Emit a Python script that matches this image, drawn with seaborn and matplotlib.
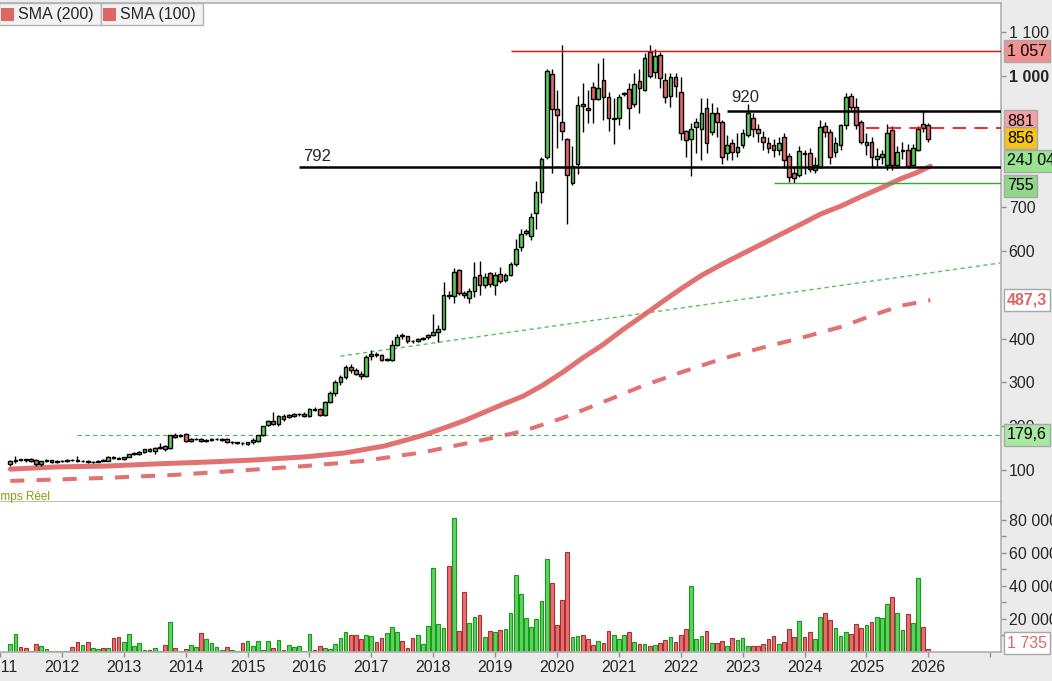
import numpy as np
import pandas as pd
import seaborn as sns
import matplotlib.pyplot as plt
from matplotlib.patches import Rectangle
from matplotlib.ticker import FixedLocator

sns.set_style("white")
plt.rcParams['font.family'] = ['Liberation Sans', 'DejaVu Sans']

# monthly candles, Mar 2011 .. Jan 2026
opens = [114, 121, 124, 124, 120, 122, 113, 121, 122, 118, 120, 121, 123, 122, 120, 121, 118, 119, 122, 121,
         129, 128, 125, 130, 136, 137, 141, 147, 144, 150, 154, 150, 180, 177, 182, 166, 170, 171, 167, 169,
         170, 169, 171, 164, 163, 162, 160, 163, 166, 179, 203, 211, 204, 224, 222, 223, 227, 229, 223, 240,
         239, 225, 256, 275, 300, 312, 335, 328, 320, 315, 360, 366, 362, 351, 351, 386, 409, 405, 395, 394,
         400, 403, 408, 415, 423, 500, 497, 556, 504, 494, 510, 545, 522, 549, 522, 547, 535, 546, 570, 610,
         641, 635, 686, 734, 814, 1004, 924, 894, 855, 755, 798, 937, 928, 974, 947, 990, 951, 901, 905, 958,
         970, 935, 988, 967, 1054, 1008, 1049, 990, 955, 997, 963, 874, 857, 883, 880, 926, 871, 915, 896, 825,
         846, 827, 842, 865, 905, 880, 861, 846, 842, 831, 860, 817, 778, 774, 825, 823, 785, 793, 886, 873,
         827, 842, 889, 954, 930, 896, 843, 850, 810, 815, 797, 877, 797, 828, 831, 797, 832, 890, 888]
highs = [123, 132, 126, 126, 127, 124, 121, 124, 123, 122, 123, 124, 125, 132, 123, 123, 121, 123, 124, 131,
         132, 130, 130, 137, 140, 143, 148, 150, 152, 162, 157, 181, 184, 182, 184, 172, 173, 173, 171, 172,
         172, 172, 173, 167, 165, 164, 165, 172, 181, 201, 215, 232, 226, 228, 229, 230, 231, 232, 241, 245,
         242, 258, 280, 305, 318, 340, 342, 334, 326, 362, 374, 370, 364, 356, 398, 411, 414, 407, 398, 402,
         404, 410, 456, 431, 530, 510, 561, 560, 508, 515, 574, 578, 550, 553, 553, 563, 550, 575, 628, 650,
         650, 686, 761, 816, 1017, 1017, 968, 1071, 858, 840, 954, 985, 968, 987, 1030, 1040, 964, 949, 958, 963,
         983, 1006, 1015, 1052, 1071, 1061, 1054, 1006, 1006, 1006, 998, 876, 892, 905, 949, 949, 938, 930, 900, 865,
         857, 870, 880, 937, 915, 890, 875, 860, 855, 860, 870, 825, 795, 840, 830, 835, 815, 900, 895, 880,
         860, 890, 960, 960, 950, 900, 870, 860, 835, 830, 890, 885, 840, 850, 845, 845, 885, 922, 892]
lows = [110, 117, 120, 118, 118, 110, 108, 119, 116, 116, 118, 119, 120, 119, 118, 117, 116, 118, 120, 120,
        125, 125, 123, 129, 135, 135, 139, 141, 136, 148, 144, 148, 172, 175, 164, 164, 168, 164, 165, 167,
        168, 167, 162, 160, 159, 158, 157, 160, 165, 178, 200, 203, 200, 213, 218, 221, 224, 221, 220, 235,
        224, 223, 252, 270, 295, 308, 322, 316, 308, 312, 351, 358, 348, 348, 349, 384, 400, 391, 390, 392,
        398, 400, 405, 392, 420, 490, 481, 500, 494, 481, 496, 499, 515, 518, 500, 528, 530, 542, 565, 600,
        636, 625, 651, 709, 810, 778, 835, 854, 661, 752, 775, 871, 892, 892, 945, 900, 875, 844, 888, 955,
        880, 930, 916, 965, 995, 995, 972, 939, 930, 953, 854, 816, 772, 823, 808, 823, 865, 861, 800, 808,
        808, 815, 835, 860, 860, 850, 830, 825, 815, 820, 790, 757, 755, 770, 775, 780, 778, 790, 860, 800,
        815, 830, 880, 920, 878, 845, 820, 790, 795, 800, 785, 785, 790, 810, 790, 792, 828, 872, 850]
closes = [120, 123, 123, 122, 125, 113, 120, 122, 118, 120, 121, 122, 122, 121, 121, 119, 119, 121, 121, 129,
          127, 126, 129, 136, 138, 141, 147, 143, 150, 152, 147, 179, 176, 179, 166, 170, 171, 166, 169, 170,
          170, 170, 164, 164, 162, 161, 164, 168, 179, 200, 211, 205, 224, 217, 226, 228, 229, 224, 239, 238,
          226, 256, 275, 300, 312, 335, 328, 320, 315, 358, 366, 362, 351, 353, 385, 403, 405, 394, 394, 400,
          402, 408, 415, 423, 499, 497, 552, 504, 499, 510, 540, 523, 540, 525, 545, 531, 545, 570, 604, 638,
          646, 679, 734, 810, 1011, 924, 912, 874, 774, 795, 933, 931, 922, 947, 972, 951, 903, 905, 953, 961,
          926, 981, 973, 1040, 1001, 1045, 995, 951, 997, 976, 869, 853, 880, 894, 915, 846, 915, 896, 815, 843,
          827, 838, 869, 915, 878, 869, 850, 835, 831, 846, 808, 770, 766, 829, 822, 787, 797, 884, 873, 816,
          846, 888, 953, 930, 888, 850, 850, 816, 818, 822, 869, 797, 827, 832, 794, 835, 880, 881, 857]
volumes = [5.0, 11.0, 3.2, 2.4, 0.8, 5.0, 3.8, 2.0, 0.4, 0.8,
           0.4, 0.8, 3.2, 6.3, 4.4, 6.3, 2.6, 2.0, 2.6, 2.6,
           8.7, 9.3, 6.3, 11.0, 3.8, 5.7, 1.4, 1.4, 2.6, 0.8,
           4.4, 18.4, 2.6, 0.8, 2.0, 4.4, 3.2, 11.7, 8.0, 5.7,
           3.2, 1.4, 3.2, 1.4, 0.8, 5.7, 6.9, 3.8, 6.9, 1.4,
           6.9, 2.6, 7.5, 1.4, 4.4, 3.2, 3.8, 0.8, 11.0, 1.4,
           3.8, 2.6, 2.0, 5.0, 8.7, 12.3, 10.5, 10.5, 8.0, 10.5,
           9.9, 6.3, 8.7, 11.7, 15.4, 12.3, 6.9, 2.6, 8.7, 10.5,
           5.0, 16.0, 51.0, 17.2, 14.7, 52.3, 81.4, 12.9, 36.6, 17.8,
           21.4, 22.6, 9.3, 12.9, 12.3, 13.5,
           14.1, 23.8, 46.9, 35.4, 20.8, 15.4, 20.2, 31.1, 56.6, 42.0,
           16.6, 31.7, 60.8, 9.3, 9.9, 10.5, 8.0, 4.4, 6.9, 5.7,
           12.9, 10.5, 8.0, 10.5, 12.3, 6.3, 5.0, 5.0, 3.8, 4.4,
           5.7, 7.5, 9.3, 6.3, 10.5, 14.1, 40.2, 8.0, 9.9, 12.9,
           5.7, 5.7, 6.9, 3.8, 8.7, 7.5, 8.7, 3.8, 3.8, 3.8,
           5.0, 8.0, 9.9, 5.0, 6.3, 14.1, 9.3, 19.0, 9.3, 12.3,
           8.0, 21.4, 23.8, 19.6, 14.7, 9.9, 12.3, 11.1, 17.2, 14.7,
           16.6, 18.4, 21.4, 20.8, 29.3, 33.5, 23.8, 13.5, 23.2, 17.8,
           45.0, 15.4, 1.735]  # thousands

years = list(range(2011, 2028))
year_labels = [str(y) for y in years[:-1]] + ['']

# moving averages (month index, price)
sma100_idx = [0, 9, 18.7, 28.3, 37.9, 47.5, 57.2, 64.9, 72.6, 80.3, 87.9, 95.7, 99.5, 103.3, 107.2, 111,
              114.9, 118.7, 122.6, 126.4, 130.3, 134.1, 138, 141.8, 145.7, 149.5, 153.4, 157.2, 161.1,
              164.9, 168.8, 172.6, 175.5, 178.4]
sma100 = [102, 107, 109, 114, 118, 123, 130, 139, 155, 180, 212, 251, 269, 294, 324, 356,
          386, 420, 452, 484, 516, 545, 570, 593, 616, 639, 662, 685, 703,
          724, 744, 765, 778, 794]
sma200_idx = [0, 18.7, 32.1, 43.7, 57.2, 68.7, 80.3, 91.8, 99.5, 107.2, 114.9, 122.6, 130.3, 138,
              145.7, 153.4, 161.1, 166.9, 172.6, 178.4]
sma200 = [75, 82, 89, 98, 109, 121, 141, 169, 189, 219, 255, 292, 324, 354,
          379, 402, 427, 452, 475, 488]

trend_idx = [64, 192]
trend_val = [360, 573]

price_ticks = [100, 200, 300, 400, 600, 700, 1000, 1100]
vol_ticks = [20, 40, 60, 80]

GREEN, RED = '#55cf55', '#e46a6a'
SMA_RED = '#e06666'

W, H = 1052, 681
fig = plt.figure(figsize=(W / 100, H / 100), dpi=100, facecolor='#ebebeb')


def fx(px):
    return px / W


def fy(py):
    return 1 - py / H


ax = fig.add_axes([0, fy(502), fx(1001), fy(3) - fy(502)])
axv = fig.add_axes([0, fy(652), fx(1001), fy(502) - fy(652)], sharex=ax)

n = len(opens)
idx = np.arange(n)
o, h, l, c = (np.array(a, dtype=float) for a in (opens, highs, lows, closes))
up = c >= o
XMAX = 192.1

# moving averages
sns.lineplot(x=sma100_idx, y=sma100, ax=ax, color=SMA_RED, linewidth=3.6, alpha=0.92, zorder=2)
sns.lineplot(x=sma200_idx, y=sma200, ax=ax, color=SMA_RED, linewidth=2.9, alpha=0.92, zorder=2)
ax.lines[-1].set_dashes([3.5, 3.0])

# candles
ax.vlines(idx, l, h, color='black', lw=1, zorder=3)
ax.bar(idx, np.maximum(np.abs(c - o), 0.8), bottom=np.minimum(o, c), width=0.72,
       color=np.where(up, GREEN, RED), edgecolor='black', linewidth=1, zorder=4)

# levels
ax.hlines(1057, 97, XMAX, color='red', lw=1, zorder=5)
ax.hlines(920, 139, XMAX, color='black', lw=1.8, zorder=5)
ax.hlines(792, 56, XMAX, color='black', lw=1.8, zorder=5)
ax.hlines(755, 148, XMAX, color='#3aa83a', lw=1, zorder=5)
ax.hlines(881, 166, XMAX, color='red', lw=1.2, linestyles=(0, (8, 5)), zorder=5)
ax.hlines(179.6, 13, XMAX, color='#4caf50', lw=0.8, linestyles=(0, (4, 3)), zorder=1)
ax.plot(trend_idx, trend_val, color='#5cc05c', lw=1, ls=(0, (3, 2.5)), zorder=1)
ax.text(139.8, 950, '920', fontsize=12, ha='left', va='center')
ax.text(56.7, 817, '792', fontsize=12, ha='left', va='center')

ax.set_xlim(-0.58, XMAX)
ax.set_ylim(26.9, 1166.7)
ax.yaxis.tick_right()
ax.yaxis.set_major_locator(FixedLocator(price_ticks))
ax.set_yticklabels([f'{t:,}'.replace(',', ' ') for t in price_ticks])
for lab in ax.get_yticklabels():
    if lab.get_text() == '1 000':
        lab.set_fontweight('bold')
ax.tick_params(axis='y', which='both', right=True, length=3.5, width=1, color='#909090',
               labelsize=11.5, pad=2)
ax.tick_params(axis='x', bottom=False, labelbottom=False)
ax.spines['left'].set_visible(False)
for s in ['right', 'top', 'bottom']:
    ax.spines[s].set_color('#b0b0b0')
    ax.spines[s].set_linewidth(1.2)

# volume
axv.bar(idx, volumes, width=0.72, color=np.where(up, '#5fd35f', '#e87070'),
        edgecolor=np.where(up, '#1a9a1a', '#a83232'), linewidth=0.8)
axv.set_ylim(0, 90.9)
axv.yaxis.tick_right()
axv.yaxis.set_major_locator(FixedLocator(vol_ticks))
axv.yaxis.set_minor_locator(FixedLocator([10, 30, 50, 70]))
axv.set_yticklabels([f'{t} 000' for t in vol_ticks])
axv.tick_params(axis='y', which='both', right=True, length=3.5, width=1, color='#909090',
                labelsize=11.5, pad=2)
axv.set_xticks([12 * (y - 2011) - 2 for y in years])
axv.set_xticklabels(year_labels)
axv.tick_params(axis='x', bottom=True, length=3.5, width=1, color='#909090', labelsize=11.5, pad=2)
axv.spines['left'].set_visible(False)
axv.spines['top'].set_visible(False)
for s in ['right', 'bottom']:
    axv.spines[s].set_color('#b0b0b0')
    axv.spines[s].set_linewidth(1.2)


def tag(axis, y, text, face, color='black', weight='normal'):
    axis.text(1.006, y, text, transform=axis.get_yaxis_transform(), ha='left', va='center',
              fontsize=11.5, color=color, fontweight=weight, clip_on=False, zorder=10,
              bbox=dict(boxstyle='square,pad=0.2', fc=face, ec='#a8a8a8', lw=1))


tag(ax, 1057, '1 057', '#f29090')
tag(ax, 897, '881', '#f4a0a0')
tag(ax, 858, '856', '#f6c21c')
tag(ax, 806, '24J 04:11:52', '#98e290')
tag(ax, 749, '755', '#90d888')
tag(ax, 488, '487,3', 'white', color=SMA_RED, weight='bold')
tag(ax, 180, '179,6', '#a8e8a0')
tag(axv, 5.45, '1 735', 'white', color=SMA_RED)

# legend boxes at the top
for x0, label in [(-1, 'SMA (200)'), (101, 'SMA (100)')]:
    fig.add_artist(Rectangle((fx(x0), fy(25)), fx(102), 22 / H, transform=fig.transFigure,
                             fc='#f2f2f2', ec='#b4b4b4', lw=1))
    fig.add_artist(Rectangle((fx(x0 + 2), fy(21)), fx(13), 13 / H, transform=fig.transFigure,
                             fc=SMA_RED, ec='none'))
    fig.text(fx(x0 + 19), fy(14), label, fontsize=11.5, va='center', ha='left')

fig.text(fx(-12), fy(497), 'Temps Réel', fontsize=8.5, color='#8c9c10', va='center', ha='left')

fig.savefig('out.png', dpi=100, facecolor=fig.get_facecolor())
